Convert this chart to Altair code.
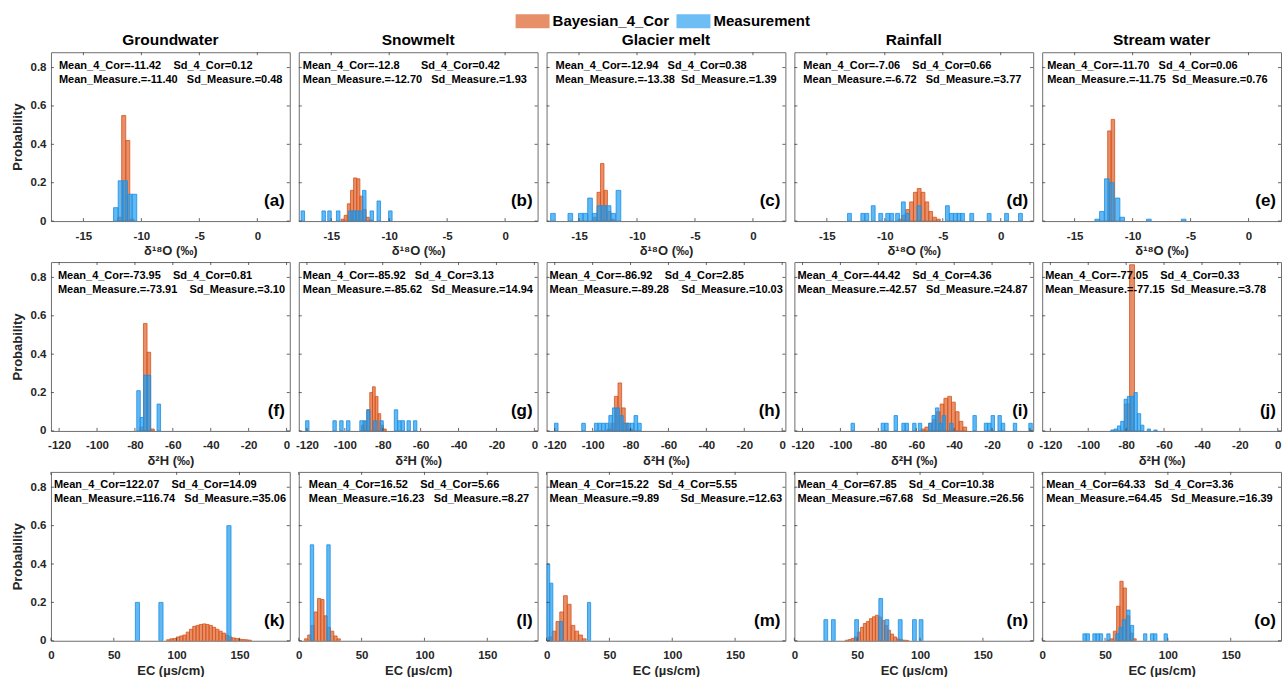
import altair as alt
import pandas as pd

# ---------------- data ----------------
SOURCES = ["Groundwater", "Snowmelt", "Glacier melt", "Rainfall", "Stream water"]
ROW_TITLES = ["δ¹⁸O (‰)", "δ²H (‰)", "EC (µs/cm)"]
LETTERS = ["a", "b", "c", "d", "e", "f", "g", "h", "i", "j", "k", "l", "m", "n", "o"]
X_DOMAINS = [[-17.8, 2.8], [-124.3, 1.7], [0, 190]]
X_TICKS = [[-15, -10, -5, 0], [-120, -100, -80, -60, -40, -20, 0], [0, 50, 100, 150]]
Y_TICKS = [0, 0.2, 0.4, 0.6, 0.8]
Y_DOMAIN = [0, 0.88]

MEAN_COR = ["-11.42", "-12.8", "-12.94", "-7.06", "-11.70",
            "-73.95", "-85.92", "-86.92", "-44.42", "-77.05",
            "122.07", "16.52", "15.22", "67.85", "64.33"]
SD_COR = ["0.12", "0.42", "0.38", "0.66", "0.06",
          "0.81", "3.13", "2.85", "4.36", "0.33",
          "14.09", "5.66", "5.55", "10.38", "3.36"]
MEAN_MEAS = ["-11.40", "-12.70", "-13.38", "-6.72", "-11.75",
             "-73.91", "-85.62", "-89.28", "-42.57", "-77.15",
             "116.74", "16.23", "9.89", "67.68", "64.45"]
SD_MEAS = ["0.48", "1.93", "1.39", "3.77", "0.76",
           "3.10", "14.94", "10.03", "24.87", "3.78",
           "35.06", "8.27", "12.63", "26.56", "16.39"]

# Bayesian_4_Cor histograms: first bin edge, bin width, probabilities
COR_START = [-12.05, -14.15, -13.75, -8.85, -12.15,
             -77.4, -91.2, -92.3, -57.4, -80.8,
             92.0, 4.5, 1.5, 40.5, 51.4]
COR_WIDTH = [0.35, 0.27, 0.3, 0.33, 0.3,
             1.9, 1.45, 1.9, 2.0, 2.6,
             2.6, 2.6, 3.0, 2.4, 2.6]
cor_a = [0.02, 0.55, 0.42, 0.01]
cor_b = [0.01, 0.03, 0.09, 0.16, 0.225, 0.22, 0.13, 0.06, 0.02, 0.005]
cor_c = [0.02, 0.15, 0.30, 0.16, 0.05, 0.01]
cor_d = [0.01, 0.03, 0.06, 0.10, 0.15, 0.17, 0.15, 0.10, 0.05, 0.02, 0.01]
cor_e = [0.47, 0.53]
cor_f = [0.02, 0.56, 0.41, 0.01]
cor_g = [0.03, 0.05, 0.11, 0.20, 0.23, 0.18, 0.09, 0.03, 0.01]
cor_h = [0.01, 0.04, 0.18, 0.25, 0.12, 0.04, 0.01]
cor_i = [0.01, 0.02, 0.04, 0.06, 0.10, 0.14, 0.17, 0.18, 0.15, 0.10, 0.05, 0.02]
cor_j = [0.14, 0.866]
cor_k = [0.005, 0.01, 0.012, 0.02, 0.025, 0.03, 0.045, 0.06, 0.075, 0.08, 0.085, 0.088, 0.085,
         0.08, 0.07, 0.06, 0.05, 0.04, 0.03, 0.02, 0.015, 0.012, 0.008, 0.006, 0.005, 0.003]
cor_l = [0.01, 0.03, 0.08, 0.15, 0.22, 0.215, 0.13, 0.07, 0.05, 0.025, 0.01]
cor_m = [0.02, 0.05, 0.10, 0.15, 0.235, 0.19, 0.08, 0.05, 0.03, 0.01]
cor_n = [0.003, 0.006, 0.012, 0.02, 0.045, 0.07, 0.09, 0.10, 0.115, 0.125, 0.133, 0.124,
         0.106, 0.08, 0.055, 0.035, 0.02, 0.01, 0.006, 0.003, 0.002]
cor_o = [0.003, 0.01, 0.05, 0.18, 0.31, 0.275, 0.13, 0.04, 0.01]
COR_P = [cor_a, cor_b, cor_c, cor_d, cor_e, cor_f, cor_g, cor_h, cor_i, cor_j,
         cor_k, cor_l, cor_m, cor_n, cor_o]

# Measurement histograms: bar centres, probabilities, bin width
MEAS_WIDTH = [0.4, 0.3, 0.4, 0.33, 0.4,
              1.85, 1.8, 1.9, 1.8, 1.75,
              3.3, 2.7, 2.5, 3.0, 2.6]
meas_a_x = [-12.2, -11.8, -11.4, -11.0, -10.6]
meas_a_p = [0.07, 0.21, 0.21, 0.14, 0.14]
meas_b_x = [-17.45, -15.65, -15.15, -14.4, -13.35, -13.05, -12.75, -12.45, -12.15, -11.5, -10.9, -9.9]
meas_b_p = [0.053, 0.053, 0.053, 0.053, 0.053, 0.053, 0.053, 0.053, 0.16, 0.053, 0.105, 0.053]
meas_c_x = [-17.25, -15.75, -14.85, -14.45, -14.05, -13.65, -13.25, -12.85, -12.45, -12.05, -11.6]
meas_c_p = [0.04, 0.04, 0.04, 0.04, 0.12, 0.04, 0.08, 0.08, 0.08, 0.04, 0.16]
meas_d_x = [-13.05, -11.9, -11.55, -11.0, -10.35, -9.75, -9.4, -8.9, -8.4, -8.05,
            -7.05, -4.6, -4.25, -3.9, -3.6, -3.3, -2.5, -1.0, 0.5, 1.7]
meas_d_p = [0.04, 0.04, 0.04, 0.08, 0.04, 0.04, 0.04, 0.04, 0.10, 0.04,
            0.08, 0.08, 0.04, 0.04, 0.04, 0.04, 0.04, 0.04, 0.04, 0.04]
meas_e_x = [-13.05, -12.65, -12.22, -11.8, -11.3, -10.9, -8.6, -5.6]
meas_e_p = [0.01, 0.05, 0.22, 0.20, 0.12, 0.02, 0.01, 0.01]
meas_f_x = [-78.1, -76.3, -74.5, -72.6, -67.4]
meas_f_p = [0.21, 0.07, 0.29, 0.29, 0.14]
meas_g_x = [-119.8, -105.4, -101.8, -98.2, -91.2, -89.4, -87.6, -84.0, -80.6,
            -73.0, -71.2, -69.4, -66.3, -62.9]
meas_g_p = [0.053, 0.053, 0.053, 0.053, 0.053, 0.053, 0.11, 0.053, 0.053,
            0.11, 0.053, 0.053, 0.053, 0.053]
meas_h_x = [-119.2, -104.8, -98.1, -96.2, -94.3, -92.4, -90.5, -88.6, -86.7, -84.8,
            -82.9, -81.0, -79.1, -77.2, -75.3]
meas_h_p = [0.04, 0.04, 0.04, 0.04, 0.04, 0.04, 0.08, 0.12, 0.12, 0.08,
            0.04, 0.04, 0.04, 0.08, 0.04]
meas_i_x = [-93.5, -77.6, -75.7, -70.8, -66.7, -65.0, -61.0, -58.0, -52.6, -50.8, -49.0,
            -47.2, -45.4, -41.5, -29.2, -23.2, -21.5, -19.6, -16.0, -14.2, -7.9, 0.3]
meas_i_p = [0.04, 0.04, 0.04, 0.08, 0.04, 0.04, 0.04, 0.04, 0.04, 0.08, 0.12,
            0.04, 0.08, 0.04, 0.08, 0.04, 0.04, 0.08, 0.08, 0.04, 0.04, 0.04]
meas_j_x = [-87.2, -85.5, -83.7, -82.0, -80.2, -78.5, -76.7, -75.0, -73.2, -71.5, -68.0, -64.5]
meas_j_p = [0.005, 0.01, 0.026, 0.05, 0.165, 0.18, 0.18, 0.20, 0.09, 0.03, 0.01, 0.005]
meas_k_x = [68.8, 87.5, 141.6]
meas_k_p = [0.2, 0.2, 0.6]
meas_l_x = [10.5, 23.65]
meas_l_p = [0.5, 0.5]
meas_m_x = [1.25, 3.75, 11.6, 33.8]
meas_m_p = [0.40, 0.30, 0.10, 0.20]
meas_n_x = [25.0, 31.0, 49.5, 68.7, 73.6, 84.2, 95.5, 100.8]
meas_n_p = [0.11, 0.11, 0.11, 0.22, 0.11, 0.11, 0.11, 0.11]
meas_o_x = [33.7, 36.3, 41.6, 44.2, 46.8, 52.7, 59.8, 62.4, 65.0, 68.6, 71.5, 82.0, 87.4, 90.0, 98.3]
meas_o_p = [0.036, 0.036, 0.036, 0.036, 0.036, 0.036, 0.036, 0.07, 0.11, 0.16, 0.08,
            0.036, 0.036, 0.036, 0.036]
MEAS_X = [meas_a_x, meas_b_x, meas_c_x, meas_d_x, meas_e_x, meas_f_x, meas_g_x, meas_h_x,
          meas_i_x, meas_j_x, meas_k_x, meas_l_x, meas_m_x, meas_n_x, meas_o_x]
MEAS_P = [meas_a_p, meas_b_p, meas_c_p, meas_d_p, meas_e_p, meas_f_p, meas_g_p, meas_h_p,
          meas_i_p, meas_j_p, meas_k_p, meas_l_p, meas_m_p, meas_n_p, meas_o_p]

# ---------------- layout / style ----------------
FONT = "Liberation Sans"
W, H = 239, 169
ROW_STEP = 210
ORANGE = "#D95319"
BLUE = "#1E9BF0"
BLUE_EDGE = "#1A8EE6"
GAP1 = [4, 7, 3, 4, 3, 4, 3, 4, 4, 4, 4, 4, 3, 4, 3]
GAP2 = [3, 3, 2, 3, 2, 4, 3, 4, 3, 2, 3, 3, 7, 3, 3]
ANN_X = [8, 4, 9, 9, 5, 7, 4, 3, 3, 3, 3, 10, 3, 3, 4]
NB = "\u00a0"

LEGEND = alt.Legend(
    title=None, orient="none", direction="horizontal",
    legendX=465, legendY=-48,
    symbolType="M-1,-0.41L1,-0.41L1,0.41L-1,0.41Z", symbolSize=1156,
    symbolOpacity=0.65, symbolStrokeWidth=0,
    labelFont=FONT, labelFontSize=15, labelFontWeight="bold", labelColor="#000000",
    labelOffset=3, columnPadding=7,
)
COLOR = alt.Color(
    "series:N",
    scale=alt.Scale(domain=["Bayesian_4_Cor", "Measurement"], range=[ORANGE, BLUE]),
    legend=LEGEND,
)


def make_panel(i):
    row, col = divmod(i, 5)
    cs, cw, cp = COR_START[i], COR_WIDTH[i], COR_P[i]
    cor = pd.DataFrame({"x0": [cs + k * cw for k in range(len(cp))], "p": cp})
    cor["x1"] = cor["x0"] + cw
    cor["p0"] = 0.0
    cor["series"] = "Bayesian_4_Cor"
    mw = MEAS_WIDTH[i]
    meas = pd.DataFrame({"c": MEAS_X[i], "p": MEAS_P[i]})
    meas["x0"] = meas["c"] - mw / 2
    meas["x1"] = meas["c"] + mw / 2
    meas["p0"] = 0.0
    meas["series"] = "Measurement"

    xs = alt.Scale(domain=X_DOMAINS[row], nice=False, zero=False)
    ys = alt.Scale(domain=Y_DOMAIN, nice=False)
    xaxis = alt.Axis(values=X_TICKS[row], title=ROW_TITLES[row], labelExpr="datum.value",
                     labelFlush=False, labelOverlap=False)
    if col == 0:
        yaxis = alt.Axis(values=Y_TICKS, title="Probability", labelExpr="datum.value",
                         labelOverlap=False)
    else:
        yaxis = None

    enc = dict(
        x=alt.X("x0:Q", scale=xs, axis=xaxis),
        x2="x1:Q",
        y=alt.Y("p:Q", scale=ys, axis=yaxis),
        y2="p0:Q",
        color=COLOR,
    )
    cor_layer = alt.Chart(cor).mark_bar(
        fillOpacity=0.65, stroke=ORANGE, strokeWidth=0.8, clip=True
    ).encode(**enc)
    meas_layer = alt.Chart(meas).mark_bar(
        fillOpacity=0.7, stroke=BLUE_EDGE, strokeWidth=0.8, clip=True
    ).encode(**enc)

    xt = pd.DataFrame({"v": X_TICKS[row]})
    yt = pd.DataFrame({"v": Y_TICKS})
    tick_style = dict(color="#404040", strokeWidth=0.8)
    xt_bot = alt.Chart(xt).mark_rule(**tick_style).encode(
        x=alt.X("v:Q", scale=xs, axis=xaxis), y=alt.value(H), y2=alt.value(H - 3))
    xt_top = alt.Chart(xt).mark_rule(**tick_style).encode(
        x=alt.X("v:Q", scale=xs, axis=xaxis), y=alt.value(0), y2=alt.value(3))
    yt_left = alt.Chart(yt).mark_rule(**tick_style).encode(
        y=alt.Y("v:Q", scale=ys, axis=yaxis), x=alt.value(0), x2=alt.value(3))
    yt_right = alt.Chart(yt).mark_rule(**tick_style).encode(
        y=alt.Y("v:Q", scale=ys, axis=yaxis), x=alt.value(W), x2=alt.value(W - 3))

    line1 = f"Mean_4_Cor={MEAN_COR[i]}{NB * GAP1[i]}Sd_4_Cor={SD_COR[i]}"
    line2 = f"Mean_Measure.={MEAN_MEAS[i]}{NB * GAP2[i]}Sd_Measure.={SD_MEAS[i]}"
    txt_style = dict(align="left", baseline="middle", font=FONT, fontSize=11,
                     fontWeight="bold", color="#000000")
    t1 = alt.Chart(pd.DataFrame({"t": [line1]})).mark_text(**txt_style).encode(
        x=alt.value(ANN_X[i]), y=alt.value(13.5), text="t:N")
    t2 = alt.Chart(pd.DataFrame({"t": [line2]})).mark_text(**txt_style).encode(
        x=alt.value(ANN_X[i]), y=alt.value(27.5), text="t:N")
    lab = alt.Chart(pd.DataFrame({"t": [f"({LETTERS[i]})"]})).mark_text(
        align="right", baseline="middle", font=FONT, fontSize=17, fontWeight="bold",
        color="#000000").encode(x=alt.value(W - 5), y=alt.value(H - 20), text="t:N")

    layer = alt.layer(cor_layer, meas_layer, xt_bot, xt_top, yt_left, yt_right, t1, t2, lab)
    props = dict(width=W, height=H)
    if row == 0:
        props["title"] = alt.TitleParams(
            SOURCES[col], font=FONT, fontSize=15.5, fontWeight="bold", color="#000000",
            offset=3, anchor="middle")
    return layer.properties(**props)


rows = []
for r in range(3):
    rows.append(alt.hconcat(*[make_panel(r * 5 + c) for c in range(5)], spacing=9, bounds="flush"))

# with flush bounds the rows count as zero height, so the spacing is the full row step
chart = alt.vconcat(*rows, spacing=ROW_STEP, bounds="flush").configure(
    font=FONT,
    background="white",
    padding={"left": 11, "top": 4, "right": 0, "bottom": 0},
).configure_view(
    stroke="#6e6e6e", strokeWidth=1
).configure_axis(
    labelFont=FONT, labelFontSize=11.5, labelFontWeight="bold", labelColor="#262626",
    titleFont=FONT, titleFontSize=13, titleFontWeight="bold", titleColor="#262626",
    grid=False, domain=False, ticks=False, labelPadding=5,
).configure_axisX(
    titlePadding=3, labelPadding=9
).configure_axisY(
    titlePadding=5
)

chart.save("out.html", embed_options={"renderer": "svg", "actions": False})
